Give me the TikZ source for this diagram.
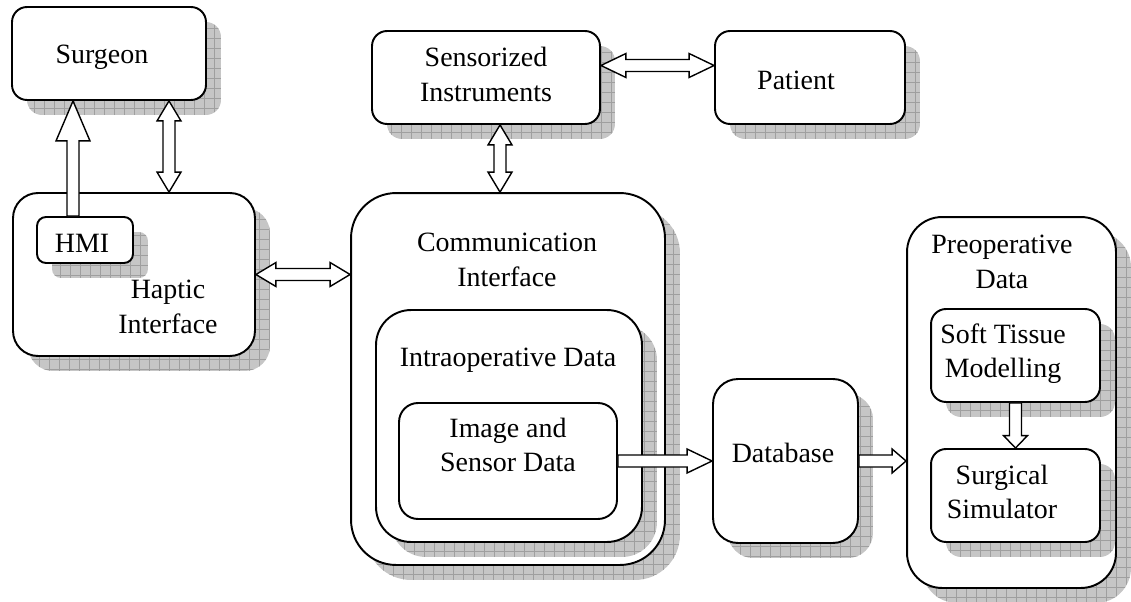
\documentclass[tikz,border=0pt]{standalone}
\usepackage{fontspec}
\setmainfont{Liberation Serif}
\usetikzlibrary{calc, positioning, shadows}

\tikzset{
    box/.style={draw, line width=1.1pt, fill=white, rounded corners=#1, inner sep=0pt},
    box/.default=0.3cm,
    shadowed/.style={drop shadow={shadow xshift=0.3cm, shadow yshift=-0.3cm, opacity=1, fill=gray!45,
        path picture={\draw[gray!75, line width=0.35pt] (path picture bounding box.south west) grid[step=0.2cm] (path picture bounding box.north east);}}},
    lbl/.style={align=center, inner sep=0pt, font=\fontsize{15.9pt}{19.5pt}\selectfont},
    arrowline/.style={draw, fill=white, line width=0.8pt, line join=miter},
}

\newcommand{\arrowhw}{0.24cm} % half width of a head
% hollow block arrow, head at the second point
\newcommand{\blockarrow}[3][0.45cm]{%
    \coordinate (ba1) at #2; \coordinate (ba2) at #3;
    \coordinate (bah) at ($(ba2)!#1!(ba1)$);
    \draw[arrowline] ($(ba1)!0.12cm!90:(ba2)$) -- ($(bah)!0.12cm!90:(ba2)$) -- ($(bah)!\arrowhw!90:(ba2)$)
        -- (ba2) -- ($(bah)!\arrowhw!-90:(ba2)$) -- ($(bah)!0.12cm!-90:(ba2)$) -- ($(ba1)!0.12cm!-90:(ba2)$) -- cycle;
}
% hollow block arrow with heads at both ends
\newcommand{\dblarrow}[3][0.4cm]{%
    \coordinate (da1) at #2; \coordinate (da2) at #3;
    \coordinate (dh1) at ($(da1)!#1!(da2)$);
    \coordinate (dh2) at ($(da2)!#1!(da1)$);
    \draw[arrowline] (da1) -- ($(dh1)!\arrowhw!90:(da2)$) -- ($(dh1)!0.12cm!90:(da2)$)
        -- ($(dh2)!0.12cm!-90:(da1)$) -- ($(dh2)!\arrowhw!-90:(da1)$) -- (da2)
        -- ($(dh2)!\arrowhw!90:(da1)$) -- ($(dh2)!0.12cm!90:(da1)$)
        -- ($(dh1)!0.12cm!-90:(da2)$) -- ($(dh1)!\arrowhw!-90:(da2)$) -- cycle;
}

\begin{document}
\begin{tikzpicture}[x=0.02cm, y=-0.02cm]
    \useasboundingbox (0,0) rectangle (1131,601);

    % top row
    \node[box, shadowed, minimum width=3.88cm, minimum height=1.86cm] (surgeon) at (109,53.5) {};
    \node[lbl] (surgeonlbl) at (102,57) {Surgeon};
    \node[box, shadowed, minimum width=4.56cm, minimum height=1.86cm] (sensor) at (486,77.5) {};
    \node[lbl] (sensorlbl) at (486,74.5) {Sensorized\\Instruments};
    \node[box, shadowed, minimum width=3.8cm, minimum height=1.86cm] (patient) at (810,77.5) {};
    \node[lbl] (patientlbl) at (796,80) {Patient};

    % haptic side
    \node[box=0.5cm, shadowed, minimum width=4.84cm, minimum height=3.26cm] (haptic) at (134,274.5) {};
    \node[lbl] (hapticlbl) at (168,307) {Haptic\\Interface};
    \node[box=0.18cm, shadowed, minimum width=1.92cm, minimum height=0.92cm] (hmi) at (85,240) {};
    \node[lbl] (hmilbl) at (82,243) {HMI};

    % communication block and what sits in it
    \node[box=0.9cm, shadowed, minimum width=6.28cm, minimum height=7.44cm] (comm) at (508,379) {};
    \node[lbl] (commlbl) at (507,260) {Communication\\Interface};
    \node[box=0.7cm, shadowed, minimum width=5.32cm, minimum height=4.64cm] (intra) at (509,426) {};
    \node[lbl] (intralbl) at (508,360) {Intraoperative Data};
    \node[box=0.38cm, minimum width=4.36cm, minimum height=2.32cm] (image) at (508,461) {};
    \node[lbl] (imagelbl) at (508,445) {Image and\\Sensor Data};

    \node[box=0.5cm, shadowed, minimum width=2.9cm, minimum height=3.28cm] (database) at (785.5,461) {};
    \node[lbl] (dblbl) at (783,453) {Database};

    % preoperative block
    \node[box=0.7cm, shadowed, minimum width=4.18cm, minimum height=7.42cm] (preop) at (1011.5,402.5) {};
    \node[lbl] (preoplbl) at (1002,262) {Preoperative\\Data};
    \node[box, shadowed, minimum width=3.38cm, minimum height=1.86cm] (soft) at (1015.5,355.5) {};
    \node[lbl] (softlbl) at (1003,354) {Soft Tissue\\Modelling};
    \node[box, shadowed, minimum width=3.38cm, minimum height=1.86cm] (surgical) at (1015.5,495.5) {};
    \node[lbl] (simlbl) at (1002,492) {Surgical\\Simulator};

    % arrows
    {\renewcommand{\arrowhw}{0.34cm}
     \blockarrow[0.8cm]{($(hmi.north)+(-12,0)$)}{($(surgeon.south)+(-36,0)$)}}
    \dblarrow{($(surgeon.south)+(60,0)$)}{($(haptic.north)+(35,0)$)}
    \dblarrow{($(sensor.south)+(14,0)$)}{($(comm.north)+(-8,0)$)}
    \dblarrow[0.5cm]{($(sensor.east)+(0,-12)$)}{($(patient.west)+(0,-12)$)}
    \dblarrow{(haptic.east)}{(haptic.east -| comm.west)}
    \blockarrow[0.5cm]{(image.east)}{(database.west)}
    \blockarrow[0.28cm]{(database.east)}{(database.east -| preop.west)}
    \blockarrow[0.25cm]{(soft.south)}{(surgical.north)}
\end{tikzpicture}
\end{document}
